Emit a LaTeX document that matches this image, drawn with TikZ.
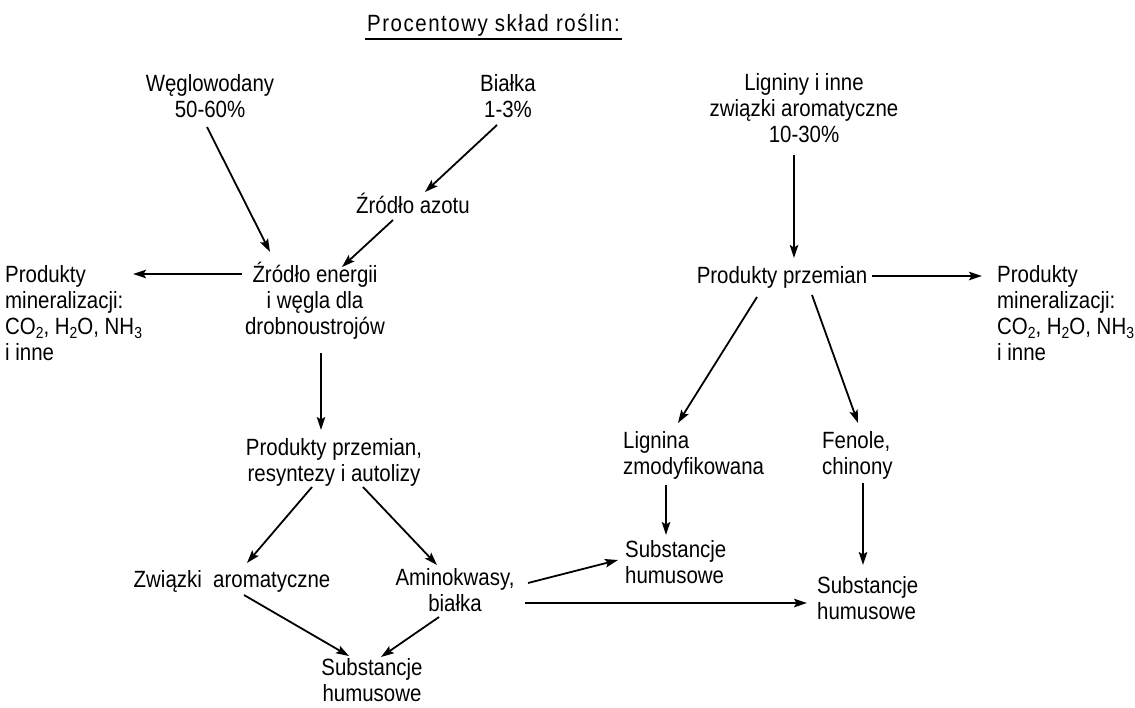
\documentclass[tikz,border=0pt]{standalone}
\usepackage{fontspec}
\setmainfont{Liberation Sans}[FakeStretch=0.87]
\usetikzlibrary{arrows.meta}
\newcommand\chsub[1]{\raisebox{-0.4ex}{\fontsize{16}{16}\selectfont #1}}
\begin{document}
\begin{tikzpicture}[x=1pt,y=-1pt,
  lbl/.style={inner sep=0pt, font=\fontsize{23.5}{26}\selectfont, align=center, anchor=base},
  lbll/.style={lbl, align=left, anchor=base west},
  arr/.style={line width=1.8pt, -{Stealth[length=13pt,width=8.5pt,inset=2.5pt]}}]
\useasboundingbox[fill=white] (0,0) rectangle (1135,707);
% nodes (anchored at the baseline of their last line)
\node[lbl] (title) at (493.5,31) {\addfontfeature{LetterSpace=6.5}Procentowy skład roślin:};
\node[lbl] (wegl) at (210,117) {Węglowodany\\50-60\%};
\node[lbl] (bialka) at (508,117) {Białka\\1-3\%};
\node[lbl] (lign) at (804,142) {Ligniny i inne\\związki aromatyczne\\10-30\%};
\node[lbl] (azot) at (413,213) {Źródło azotu};
\node[lbl] (energia) at (315,334) {Źródło energii\\i węgla dla\\drobnoustrojów};
\node[lbll] (minL) at (5,360) {Produkty\\mineralizacji:\\CO\chsub{2}, H\chsub{2}O, NH\chsub{3}\\i inne};
\node[lbl] (ppR) at (782,283) {Produkty przemian};
\node[lbll] (minR) at (997,360) {Produkty\\mineralizacji:\\CO\chsub{2}, H\chsub{2}O, NH\chsub{3}\\i inne};
\node[lbl] (resyn) at (334,481) {Produkty przemian,\\resyntezy i autolizy};
\node[lbll] (lignina) at (623,474) {Lignina\\zmodyfikowana};
\node[lbll] (fenole) at (822,474) {Fenole,\\chinony};
\node[lbll] (subM) at (625,583) {Substancje\\humusowe};
\node[lbll] (subR) at (817,619) {Substancje\\humusowe};
\node[lbl] (zwiazki) at (232,587) {Związki\ \ aromatyczne};
\node[lbl] (amino) at (455,611) {Aminokwasy,\\białka};
\node[lbl] (subB) at (372,701) {Substancje\\humusowe};
% underline of title
\draw[line width=1.2pt] ([shift={(-128.5,8)}]title.base) -- ([shift={(128.5,8)}]title.base);
% connectors
\draw[arr] ([shift={(-3,10)}]wegl.base) -- ([shift={(-45,-82)}]energia.base);
\draw[arr] ([shift={(-11,8)}]bialka.base) -- ([shift={(12,-21)}]azot.base);
\draw[arr] ([shift={(-20,7)}]azot.base) -- ([shift={(27,-67)}]energia.base);
\draw[arr] ([shift={(-73,-60)}]energia.base) -- ([shift={(128,-86)}]minL.base west);
\draw[arr] ([shift={(6,19)}]energia.base) -- ([shift={(-13,-51)}]resyn.base);
\draw[arr] ([shift={(-10,13)}]lign.base) -- ([shift={(12,-25)}]ppR.base);
\draw[arr] ([shift={(90,-7)}]ppR.base) -- ([shift={(-15,-84)}]minR.base west);
\draw[arr] ([shift={(-25,14)}]ppR.base) -- ([shift={(55,-51)}]lignina.base west);
\draw[arr] ([shift={(30,12)}]ppR.base) -- ([shift={(36,-51)}]fenole.base west);
\draw[arr] ([shift={(-22,6)}]resyn.base) -- ([shift={(15,-24)}]zwiazki.base);
\draw[arr] ([shift={(29,6)}]resyn.base) -- ([shift={(-18,-46)}]amino.base);
\draw[arr] ([shift={(12,8)}]zwiazki.base) -- ([shift={(-23,-45)}]subB.base);
\draw[arr] ([shift={(-16,6)}]amino.base) -- ([shift={(9,-44)}]subB.base);
\draw[arr] ([shift={(73,-28)}]amino.base) -- ([shift={(-7,-23)}]subM.base west);
\draw[arr] ([shift={(70,-8)}]amino.base) -- ([shift={(-10,-16)}]subR.base west);
\draw[arr] ([shift={(43,11)}]lignina.base west) -- ([shift={(41,-48)}]subM.base west);
\draw[arr] ([shift={(41,9)}]fenole.base west) -- ([shift={(46,-54)}]subR.base west);
\end{tikzpicture}
\end{document}
